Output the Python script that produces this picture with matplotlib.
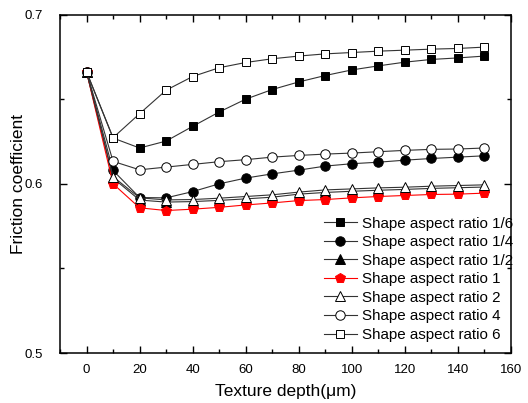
import numpy as np
import matplotlib
matplotlib.use("Agg")
import matplotlib.pyplot as plt
from matplotlib.ticker import MultipleLocator

plt.rcParams['font.family'] = ['Liberation Sans', 'DejaVu Sans']

depth = np.arange(0, 160, 10)

# friction coefficient for each shape aspect ratio
ratio_1_6 = [0.6664, 0.6272, 0.6213, 0.6254, 0.6341, 0.6426, 0.6502, 0.6559,
             0.6604, 0.6642, 0.6675, 0.6699, 0.6721, 0.6737, 0.6746, 0.6757]
ratio_1_4 = [0.6664, 0.6080, 0.5920, 0.5918, 0.5955, 0.6001, 0.6035, 0.6060,
             0.6082, 0.6106, 0.6120, 0.6129, 0.6141, 0.6151, 0.6159, 0.6167]
ratio_1_2 = [0.6664, 0.6035, 0.5905, 0.5893, 0.5896, 0.5903, 0.5912, 0.5922,
             0.5940, 0.5950, 0.5957, 0.5963, 0.5968, 0.5974, 0.5978, 0.5982]
ratio_1 = [0.6664, 0.6001, 0.5859, 0.5843, 0.5851, 0.5862, 0.5876, 0.5888,
           0.5902, 0.5908, 0.5918, 0.5926, 0.5932, 0.5938, 0.5940, 0.5946]
ratio_2 = [0.6664, 0.6043, 0.5918, 0.5906, 0.5908, 0.5916, 0.5926, 0.5936,
           0.5952, 0.5965, 0.5971, 0.5977, 0.5981, 0.5987, 0.5991, 0.5995]
ratio_4 = [0.6664, 0.6134, 0.6084, 0.6100, 0.6116, 0.6132, 0.6144, 0.6159,
           0.6169, 0.6177, 0.6183, 0.6191, 0.6199, 0.6205, 0.6207, 0.6213]
ratio_6 = [0.6664, 0.6274, 0.6416, 0.6555, 0.6636, 0.6688, 0.6719, 0.6741,
           0.6757, 0.6770, 0.6778, 0.6786, 0.6792, 0.6798, 0.6802, 0.6810]

labels = ['Shape aspect ratio 1/6', 'Shape aspect ratio 1/4',
          'Shape aspect ratio 1/2', 'Shape aspect ratio 1',
          'Shape aspect ratio 2', 'Shape aspect ratio 4',
          'Shape aspect ratio 6']

fig = plt.figure(figsize=(5.28, 4.03), dpi=100)
ax = fig.add_axes([60 / 528, 1 - 353 / 403, 451 / 528, 338 / 403])

series = [
    (ratio_1_6, dict(marker='s', color='#333333', mfc='black', mec='black', ms=6)),
    (ratio_1_4, dict(marker='o', color='#333333', mfc='black', mec='black', ms=6.8)),
    (ratio_1_2, dict(marker='^', color='#333333', mfc='black', mec='black', ms=7.2)),
    (ratio_1, dict(marker='p', color='red', mfc='red', mec='red', ms=7.8)),
    (ratio_2, dict(marker='^', color='#333333', mfc='white', mec='black', ms=7.2)),
    (ratio_4, dict(marker='o', color='#333333', mfc='white', mec='black', ms=6.8)),
    (ratio_6, dict(marker='s', color='#333333', mfc='white', mec='black', ms=6)),
]
for (vals, style), lab in zip(series, labels):
    ax.plot(depth, vals, lw=0.8, mew=0.7, label=lab, **style)

ax.set_xlim(-10, 160)
ax.set_ylim(0.5, 0.7)
ax.xaxis.set_major_locator(MultipleLocator(20))
ax.xaxis.set_minor_locator(MultipleLocator(10))
ax.yaxis.set_major_locator(MultipleLocator(0.1))
ax.yaxis.set_minor_locator(MultipleLocator(0.05))
ax.tick_params(which='both', direction='in', top=True, right=True,
               labelsize=9.5, width=1)
ax.tick_params(which='major', length=5)
ax.tick_params(which='minor', length=3)
ax.tick_params(axis='x', pad=8)
ax.tick_params(axis='y', pad=12)
for sp in ax.spines.values():
    sp.set_linewidth(1.1)

ax.set_xlabel('Texture depth(\u03bcm)', fontsize=12.5)
ax.set_ylabel('Friction coefficient', fontsize=12.5)
ax.xaxis.set_label_coords(0.5, -0.092)
ax.yaxis.set_label_coords(-0.075, 0.5)

ax.legend(loc='lower right', frameon=False, fontsize=10.9, handlelength=2.2,
          handletextpad=0.33, labelspacing=0.3, borderaxespad=0.0,
          bbox_to_anchor=(1.018, 0.015))

fig.savefig('out.png', dpi=100)
